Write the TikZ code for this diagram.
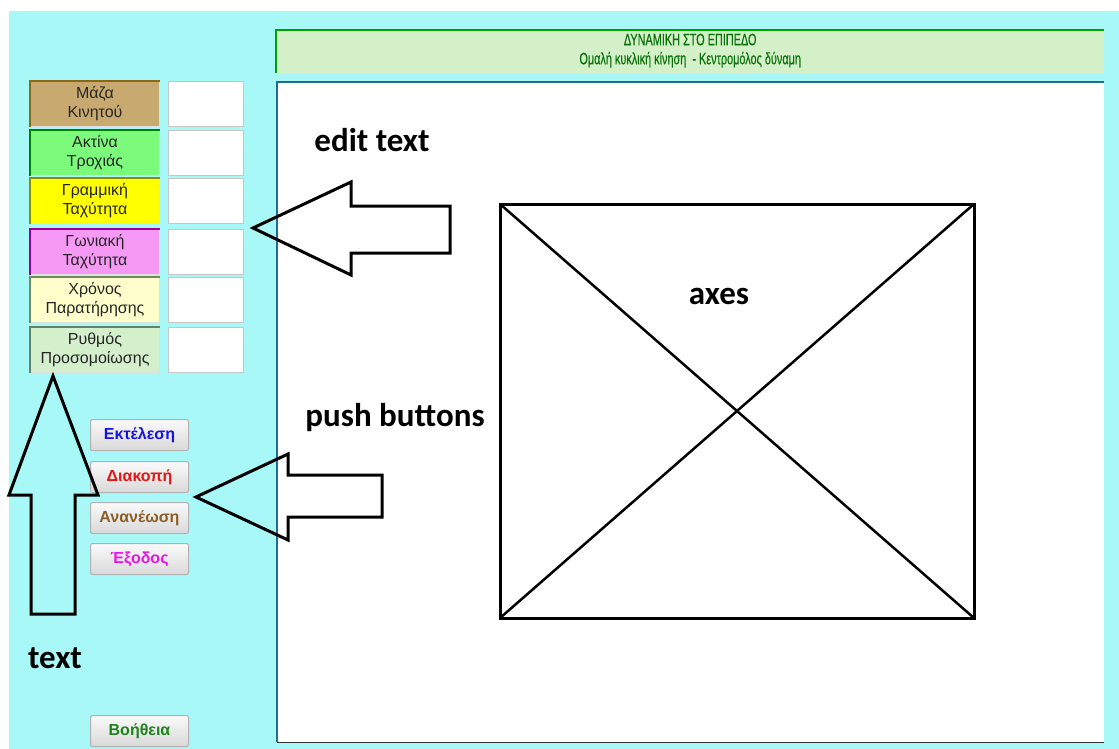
\documentclass[tikz,border=0pt]{standalone}
\usepackage{fontspec}
\setmainfont{Liberation Sans}
\newfontfamily\calib{Carlito}
\newfontfamily\narrowf[FakeStretch=0.66,FakeBold=0.4]{Liberation Sans}
\definecolor{bgcyan}{RGB}{168,248,248}
\definecolor{hdrfill}{RGB}{211,240,200}
\definecolor{hdrgreen}{RGB}{0,160,0}
\definecolor{hdrtext}{RGB}{10,115,10}
\definecolor{teal}{RGB}{30,110,140}
\definecolor{lbA}{RGB}{200,170,112}\definecolor{bdA}{RGB}{139,105,20}
\definecolor{lbB}{RGB}{124,250,124}\definecolor{bdB}{RGB}{0,130,0}
\definecolor{lbC}{RGB}{255,255,0}\definecolor{bdC}{RGB}{140,140,0}
\definecolor{lbD}{RGB}{245,153,245}\definecolor{bdD}{RGB}{150,0,150}
\definecolor{lbE}{RGB}{255,255,204}\definecolor{bdE}{RGB}{110,140,100}
\definecolor{lbF}{RGB}{211,239,204}\definecolor{bdF}{RGB}{100,130,100}
\definecolor{btBlue}{RGB}{20,20,230}
\definecolor{btRed}{RGB}{230,20,20}
\definecolor{btBrown}{RGB}{140,95,40}
\definecolor{btMag}{RGB}{230,20,230}
\definecolor{btGreen}{RGB}{30,130,30}
\begin{document}
\begin{tikzpicture}[x=1pt,y=-1pt,
  lbl/.style={minimum width=129, minimum height=45, anchor=north west, inner sep=0pt,
     draw=gray!25, line width=1pt, align=center, text=black!85,
     font=\fontsize{16}{19}\selectfont},
  entry/.style={minimum width=75, minimum height=45, anchor=north west, inner sep=0pt,
     fill=white, draw=gray!45, line width=1pt},
  btn/.style={minimum width=98, minimum height=31, anchor=north west, inner sep=0pt,
     rounded corners=2pt, draw=gray!60, line width=1pt, top color=white!96!gray,
     bottom color=gray!30, font=\bfseries\fontsize{16}{18}\selectfont},
  callout/.style={font=\calib\bfseries\fontsize{33}{36}\selectfont, inner sep=0pt},
  blockarrow/.style={draw=black, line width=3pt, line join=miter}]
\useasboundingbox (0,0) rectangle (1119,749);
\fill[white] (0,0) rectangle (1119,749);
\fill[bgcyan] (9,11) rectangle (1119,749);
% header
\node[fill=hdrfill, minimum width=828, minimum height=43, anchor=north west, inner sep=0pt] (header) at (276,30) {};
\draw[hdrgreen, line width=2.5pt] (header.south west) -- (header.north west) -- (header.north east);
\node[text=hdrtext, font=\narrowf\fontsize{16.5}{19}\selectfont, align=center] (title) at ([yshift=1]header.center)
  {ΔΥΝΑΜΙΚΗ ΣΤΟ ΕΠΙΠΕΔΟ\\Ομαλή κυκλική κίνηση\ \ - Κεντρομόλος δύναμη};
% panel
\node[fill=white, minimum width=827, minimum height=660, anchor=north west, inner sep=0pt] (panel) at (277,82) {};
\draw[teal, line width=2.5pt] (panel.south west) -- (panel.north west) -- (panel.north east);
\draw[black!80, line width=1.5pt] (panel.south west) -- (panel.south east);
% label boxes
\node[lbl, fill=lbA] (l1) at (30,81) {Μάζα\\Κινητού};
\node[lbl, fill=lbB] (l2) at (30,130) {Ακτίνα\\Τροχιάς};
\node[lbl, fill=lbC] (l3) at (30,178) {Γραμμική\\Ταχύτητα};
\node[lbl, fill=lbD] (l4) at (30,229) {Γωνιακή\\Ταχύτητα};
\node[lbl, fill=lbE] (l5) at (30,277) {Χρόνος\\Παρατήρησης};
\node[lbl, fill=lbF] (l6) at (30,327) {Ρυθμός\\Προσομοίωσης};
\draw[bdA, line width=2pt] (l1.south west) -- (l1.north west) -- (l1.north east);
\draw[bdB, line width=2pt] (l2.south west) -- (l2.north west) -- (l2.north east);
\draw[bdC, line width=2pt] (l3.south west) -- (l3.north west) -- (l3.north east);
\draw[bdD, line width=2pt] (l4.south west) -- (l4.north west) -- (l4.north east);
\draw[bdE, line width=2pt] (l5.south west) -- (l5.north west) -- (l5.north east);
\draw[bdF, line width=2pt] (l6.south west) -- (l6.north west) -- (l6.north east);
% entry boxes
\node[entry] (e1) at (168,81) {};
\node[entry] (e2) at (168,130) {};
\node[entry] (e3) at (168,178) {};
\node[entry] (e4) at (168,229) {};
\node[entry] (e5) at (168,277) {};
\node[entry] (e6) at (168,327) {};
% buttons
\node[btn, text=btBlue] (b1) at (90,419) {Εκτέλεση};
\node[btn, text=btRed] (b2) at (90,461) {Διακοπή};
\node[btn, text=btBrown] (b3) at (90,502) {Ανανέωση};
\node[btn, text=btMag] (b4) at (90,543) {Έξοδος};
\node[btn, text=btGreen] (b5) at (90,715) {Βοήθεια};
% axes placeholder
\node[draw=black, line width=3pt, minimum width=474, minimum height=414, anchor=north west, inner sep=0pt, outer sep=0pt] (axes) at (500,204) {};
\draw[black, line width=2.5pt] (axes.north west) -- (axes.south east);
\draw[black, line width=2.5pt] (axes.south west) -- (axes.north east);
% block arrows
\draw[blockarrow] (53,376) -- (98,495) -- (75,495) -- (75,614) -- (31,614) -- (31,495) -- (9,495) -- cycle;
\draw[blockarrow] (253,228) -- (351,182) -- (351,206) -- (450,206) -- (450,253) -- (351,253) -- (351,275) -- cycle;
\draw[blockarrow] (196,497) -- (288,454) -- (288,475) -- (382,475) -- (382,517) -- (288,517) -- (288,540) -- cycle;
% callout labels
\node[callout] (tEdit) at (372,140) {edit text};
\node[callout] (tPush) at (395,418) {push buttons};
\node[callout] (tAxes) at (719,296) {axes};
\node[callout] (tText) at (55,658) {text};
\end{tikzpicture}
\end{document}
